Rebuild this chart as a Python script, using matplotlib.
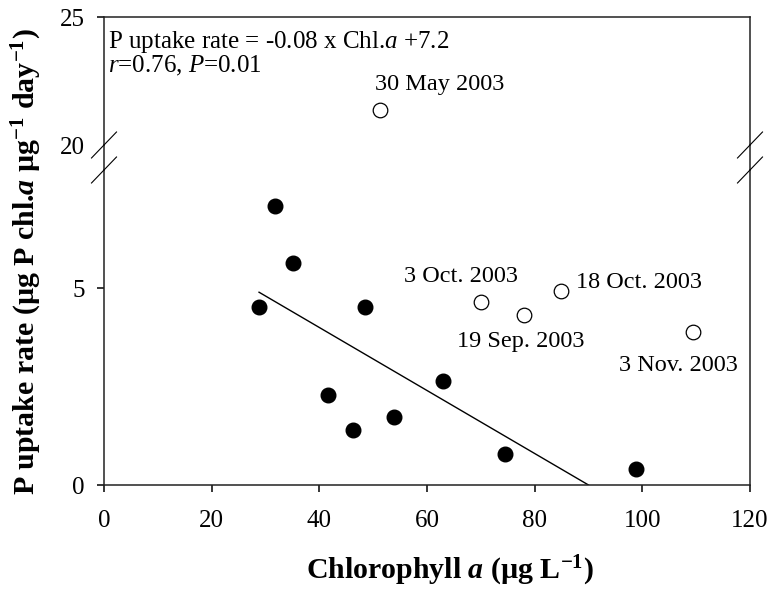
import matplotlib
matplotlib.use("Agg")
import matplotlib.pyplot as plt
from matplotlib.lines import Line2D

plt.rcParams.update({
    "font.family": ["Liberation Serif", "DejaVu Serif"],
    "mathtext.fontset": "custom",
    "mathtext.rm": "Liberation Serif",
    "mathtext.it": "Liberation Serif:italic",
    "mathtext.bf": "Liberation Serif:bold",
    "mathtext.bfit": "Liberation Serif:italic:bold",
    "axes.linewidth": 1.1,
    "xtick.major.width": 1.1,
    "ytick.major.width": 1.1,
    "xtick.major.size": 5,
    "ytick.major.size": 5,
})

# Regular samples (filled circles)
chl_fit = [28.8, 31.8, 35.2, 41.7, 46.2, 48.4, 53.9, 62.9, 74.4, 98.8]
rate_fit = [4.51, 7.09, 5.63, 2.28, 1.40, 4.51, 1.72, 2.63, 0.79, 0.41]

# Outlying dates (open circles)
out_dates = ["30 May 2003", "3 Oct. 2003", "19 Sep. 2003", "18 Oct. 2003", "3 Nov. 2003"]
out_chl = [51.3, 70.1, 78.0, 84.9, 109.5]
out_rate = [21.37, 4.65, 4.31, 4.92, 3.88]

# Regression: P uptake rate = -0.08 x Chl.a + 7.2
slope, intercept = -0.08, 7.2
fit_x = [28.8, 90.0]

x_ticks = [0, 20, 40, 60, 80, 100, 120]
low_ticks = [0, 5]
high_ticks = [20, 25]

W, H = 771, 590
fig = plt.figure(figsize=(W / 100, H / 100), dpi=100)

left, right = 104, 750
low_top, low_bot = 170, 485
high_top, high_bot = 17, 145

def fx(px):
    return px / W

def fy(py):
    return 1 - py / H

ax_lo = fig.add_axes([fx(left), fy(low_bot), fx(right - left), (low_bot - low_top) / H])
ax_hi = fig.add_axes([fx(left), fy(high_bot), fx(right - left), (high_bot - high_top) / H])

ax_lo.set_xlim(0, 120)
ax_lo.set_ylim(0, 8.0)
ax_hi.set_xlim(0, 120)
ax_hi.set_ylim(20, 25)

ax_lo.spines["top"].set_visible(False)
ax_hi.spines["bottom"].set_visible(False)
for a in (ax_lo, ax_hi):
    a.tick_params(direction="out", labelsize=18, right=False, top=False)
    a.tick_params(axis="y", pad=9)
    a.tick_params(axis="x", pad=13)
    for s in a.spines.values():
        s.set_color("#222222")

ax_lo.set_xticks(x_ticks)
ax_lo.set_yticks(low_ticks)
ax_hi.set_yticks(high_ticks)
ax_hi.set_xticks([])
ax_hi.yaxis.get_major_ticks()[0].tick1line.set_visible(False)

ms = 10.5
ax_lo.plot(chl_fit, rate_fit, "o", color="black", markersize=ms, zorder=3)

lo_max = ax_lo.get_ylim()[1]
for d, xv, yv in zip(out_dates, out_chl, out_rate):
    target = ax_lo if yv <= lo_max else ax_hi
    target.plot([xv], [yv], "o", markerfacecolor="white", markeredgecolor="black",
                markeredgewidth=0.9, markersize=ms, zorder=3)

label_offsets = {
    "30 May 2003": ((43, 18), "center"),
    "3 Oct. 2003": ((-15, 18), "center"),
    "19 Sep. 2003": ((-2, -19), "center"),
    "18 Oct. 2003": ((11, 6), "left"),
    "3 Nov. 2003": ((-11, -24), "center"),
}
for d, xv, yv in zip(out_dates, out_chl, out_rate):
    target = ax_lo if yv <= lo_max else ax_hi
    off, ha = label_offsets[d]
    target.annotate(d, (xv, yv), xytext=off, textcoords="offset points",
                    ha=ha, va="center", fontsize=17.5)

fit_y = [slope * v + intercept for v in fit_x]
ax_lo.plot(fit_x, fit_y, color="black", lw=1.0, zorder=2)

# regression equation and statistics, top-left
fig.text(fx(108), fy(48), "P uptake rate = -0.08 x Chl.$\\it{a}$ +7.2",
         ha="left", va="baseline", fontsize=18)
fig.text(fx(108), fy(72), "$r$=0.76, $P$=0.01",
         ha="left", va="baseline", fontsize=18)

# continuous side spines across the gap, with break marks
for xp in (left, right):
    fig.add_artist(Line2D([fx(xp), fx(xp)], [fy(high_bot), fy(low_top)],
                          transform=fig.transFigure, color="#222222", lw=1.1))
    for yc in (high_bot, low_top):
        fig.add_artist(Line2D([fx(xp - 12.5), fx(xp + 12.5)], [fy(yc + 13), fy(yc - 13)],
                              transform=fig.transFigure, color="black", lw=0.8))

fig.text(fx(450), fy(571), "Chlorophyll $\\mathbfit{a}$ (µg L$^{\\mathbf{-1}}$)",
         ha="center", va="center", fontsize=21.5, fontweight="bold")
fig.text(fx(27), fy(262),
         "P uptake rate (µg P chl.$\\mathbfit{a}$ µg$^{\\mathbf{-1}}$ day$^{\\mathbf{-1}}$)",
         ha="center", va="center", rotation=90, fontsize=21.5, fontweight="bold")

fig.savefig("out.png", dpi=100)
